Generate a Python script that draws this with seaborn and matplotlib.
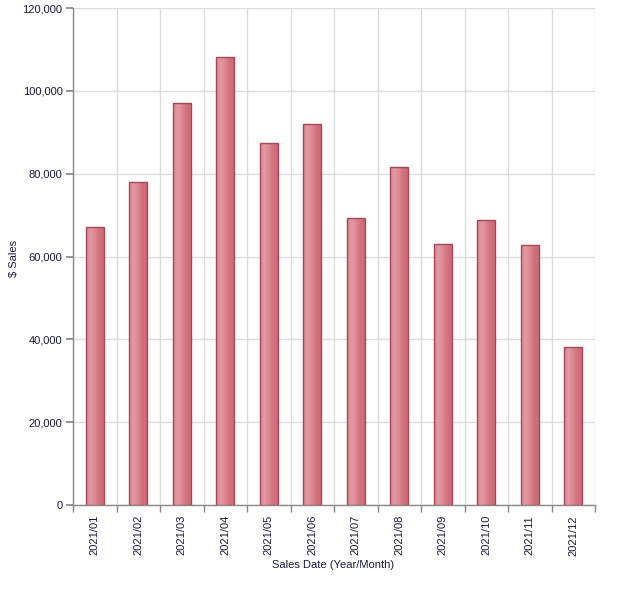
import numpy as np
import pandas as pd
import matplotlib
matplotlib.use("Agg")
import matplotlib.pyplot as plt
import seaborn as sns
from matplotlib.colors import LinearSegmentedColormap

months = ["2021/01", "2021/02", "2021/03", "2021/04", "2021/05", "2021/06",
          "2021/07", "2021/08", "2021/09", "2021/10", "2021/11", "2021/12"]
sales = [67100, 78000, 97100, 108200, 87400, 92000,
         69300, 81600, 63000, 68800, 62800, 38100]
y_ticks = [0, 20000, 40000, 60000, 80000, 100000, 120000]

df = pd.DataFrame({"month": months, "sales": sales})

sns.set_theme(style="white")
plt.rcParams['font.family'] = ['Liberation Sans', 'DejaVu Sans']

fig = plt.figure(figsize=(6.21, 5.89), dpi=100)
ax = fig.add_axes([73/621, 84/589, 522/621, 497/589])

sns.barplot(data=df, x="month", y="sales", ax=ax, width=0.41,
            color="#d87a86", edgecolor="#a04a5a", linewidth=1.0, zorder=3)

# gradient fill clipped to each bar
cmap = LinearSegmentedColormap.from_list(
    "bar", ["#d98591", "#e29ba4", "#dd8893", "#d4707d", "#cf6876"])
grad = np.linspace(0, 1, 64).reshape(1, -1)
for p in ax.patches:
    x0, y0 = p.get_x(), p.get_y()
    w, h = p.get_width(), p.get_height()
    im = ax.imshow(grad, cmap=cmap, aspect="auto",
                   extent=[x0, x0 + w, y0, y0 + h], zorder=3.5,
                   interpolation="bicubic")
    im.set_clip_path(p)
    p.set_facecolor("none")
    p.set_zorder(4)

ax.set_xlim(-0.5, len(months) - 0.5)
ax.set_ylim(0, 120000)
ax.set_yticks(y_ticks)
ax.set_yticklabels([f"{v:,}" for v in y_ticks])

ax.set_xticks(np.arange(len(months)))
ax.set_xticklabels(months, rotation=90)
ax.set_xticks(np.arange(-0.5, len(months)), minor=True)

ax.grid(False)
ax.yaxis.grid(True, color="#dcdcdc", linewidth=1.0, zorder=0)
ax.xaxis.grid(True, which="minor", color="#dcdcdc", linewidth=1.0, zorder=0)
ax.set_axisbelow(True)

for s in ["top", "right"]:
    ax.spines[s].set_visible(False)
for s in ["left", "bottom"]:
    ax.spines[s].set_color("#888888")
    ax.spines[s].set_linewidth(1.0)

ax.tick_params(axis="y", which="major", left=True, length=5, color="#888888",
               labelsize=8, labelcolor="#1a1a3a", pad=2.5)
ax.tick_params(axis="x", which="major", bottom=False, length=0, labelsize=8,
               labelcolor="#1a1a3a", pad=7.2)
ax.tick_params(axis="x", which="minor", bottom=True, length=5, color="#888888")

ax.set_xlabel("Sales Date (Year/Month)", fontsize=8, color="#1a1a3a")
ax.set_ylabel("$ Sales", fontsize=8, color="#1a1a3a")
ax.xaxis.set_label_coords((333 - 73) / 522, (505 - 565) / 497)
ax.yaxis.set_label_coords((14 - 73) / 522, (505 - 258) / 497)
ax.xaxis.label.set_va("center")
ax.yaxis.label.set_va("center")

fig.savefig("out.png", dpi=100)
